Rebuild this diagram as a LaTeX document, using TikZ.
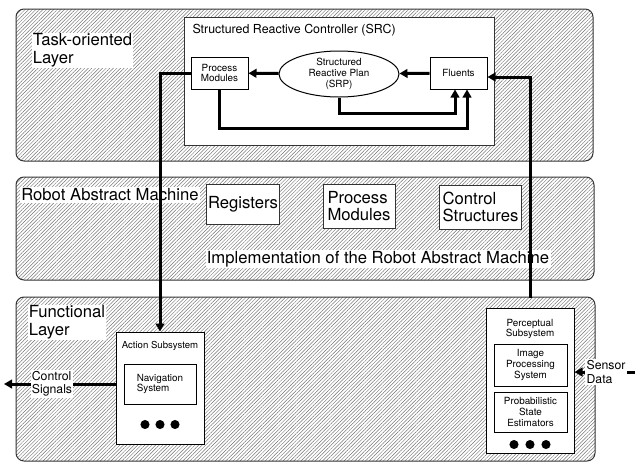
\documentclass[tikz,border=0pt]{standalone}
\usepackage{fontspec}
\setmainfont{TeX Gyre Heros}
\usetikzlibrary{arrows.meta,patterns.meta,shapes.geometric,calc}

\tikzset{every picture/.style={line width=0.75pt}}
\tikzset{
  layer/.style={draw=black!80, rounded corners=6pt, pattern={Lines[angle=45,distance=1.9pt,line width=0.35pt]}, pattern color=black!55},
  box/.style={draw, fill=white, inner sep=0pt, align=left, font=\fontsize{7.4}{8}\selectfont},
  bigbox/.style={draw=black!80, fill=white, inner sep=1pt, align=left, font=\fontsize{12.5}{13}\selectfont},
  biglabel/.style={fill=white, inner sep=1pt, align=left, font=\fontsize{12.5}{13}\selectfont},
  smalllabel/.style={fill=white, inner sep=1pt, align=left, font=\fontsize{9.2}{10}\selectfont},
  flow/.style={line width=2.25pt, -{Triangle[length=6pt,width=6.5pt]}}
}

\begin{document}
\begin{tikzpicture}[x=0.75pt,y=0.75pt,yscale=-1,xscale=1]
\useasboundingbox (0,0) rectangle (635,461);

%Shape: Rounded Rectangle [task-oriented layer]
\draw [layer] (16,9) rectangle (593,161) ;
%Shape: Rounded Rectangle [robot abstract machine]
\draw [layer] (16,177) rectangle (594,280) ;
%Shape: Rounded Rectangle [functional layer]
\draw [layer] (16,297) rectangle (595,461) ;

% Text Node
\node [biglabel, anchor=north west] (tasklbl) at (31,32) {Task-oriented\\Layer};
% Text Node
\node [biglabel] (ramlbl) at (110,195) {Robot Abstract Machine};
% Text Node
\node [biglabel] (impllbl) at (378,259) {Implementation of the Robot Abstract Machine};
% Text Node
\node [biglabel, anchor=north west] (funclbl) at (27,304) {Functional\\Layer};

%Shape: Rectangle [SRC]
\node [draw=black!80, fill=white, minimum width=232.5pt, minimum height=96pt] (src) at (339,81) {};
\node [anchor=north west, inner sep=0pt, font=\fontsize{9.3}{10}\selectfont] (srctitle) at (192,24) {Structured Reactive Controller (SRC)};
\node [box, align=center, minimum width=42.75pt, minimum height=24pt] (pm) at (219.5,73) {Process\\Modules};
\node [box, align=center, ellipse, minimum width=90pt, minimum height=34.5pt] (srp) at (339,74) {Structured\\Reactive Plan\\(SRP)};
\node [box, minimum width=42.75pt, minimum height=24pt] (fl) at (458.5,73) {Fluents};

%Shape: Rectangle [RAM parts]
\node [bigbox, minimum width=54pt, minimum height=30pt] (reg) at (243,204) {Registers};
\node [bigbox, minimum width=54pt, minimum height=33pt] (pmod) at (359,206) {Process\\Modules};
\node [bigbox, minimum width=62pt, minimum height=33pt] (ctrl) at (480.5,207) {Control\\Structures};

%Shape: Rectangle [action subsystem]
\node [draw, fill=white, minimum width=66pt, minimum height=84pt] (act) at (160,388) {};
\node [anchor=north, inner sep=0pt, font=\fontsize{7.2}{8}\selectfont] (acttitle) at ($(act.north)+(0,9)$) {Action Subsystem};
\node [box, minimum width=54pt, minimum height=30pt] (nav) at (160,384) {Navigation\\System};
\foreach \dx in {-15,0,15}
  \fill ($(act.south)+(\dx,-20)$) circle [radius=3.4pt];

%Shape: Rectangle [perceptual subsystem]
\node [draw, fill=white, minimum width=66pt, minimum height=108.75pt] (ps) at (530,380.5) {};
\node [anchor=north, inner sep=0pt, align=center, font=\fontsize{7.4}{8}\selectfont] (pstitle) at ($(ps.north)+(0,11)$) {Perceptual\\Subsystem};
\node [box, align=center, minimum width=54.75pt, minimum height=31.5pt] (ips) at (530.5,365) {Image\\Processing\\System};
\node [box, align=center, minimum width=54.75pt, minimum height=30pt] (pse) at (530.5,412) {Probabilistic\\State\\Estimators};
\foreach \dx in {-16,0,16}
  \fill ($(ps.south)+(\dx,-9)$) circle [radius=3.4pt];

% Connectors
\coordinate (flin1) at ($(fl.south)+(-3.5,0)$);
\coordinate (flin2) at ($(fl.south)+(8.5,0)$);
\coordinate (flin3) at ($(fl.east)+(0,4)$);
\coordinate (psout) at ($(ps.north)+(0,-10)$);
\coordinate (sigend) at (4,384);
\coordinate (sensin) at (635,372);

\draw [flow] (srp) -- (pm);
\draw [flow] (fl) -- (srp);
\draw [flow] (srp.south) -- ++(0,16) -| (flin1);
\draw [flow] (pm.south) -- ++(0,39) -| (flin2);
\draw [flow] (pm.west) -| (act.north);
\draw [flow] (psout) |- (flin3);
\draw [flow] (nav.west -| act.west) -- (sigend);
\draw [flow] (sensin) -- (sensin -| ps.east);

% Text Node
\node [smalllabel] (siglbl) at (52,384) {Control\\Signals};
% Text Node
\node [smalllabel] (senslbl) at (606,372) {Sensor\\Data};

\end{tikzpicture}
\end{document}
